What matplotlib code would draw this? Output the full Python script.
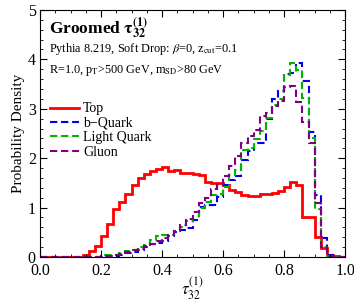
import matplotlib
matplotlib.use('Agg')
import matplotlib.pyplot as plt
import numpy as np
from matplotlib.ticker import MultipleLocator

# bin edges: 50 bins of width 0.02
edges = np.linspace(0.0, 1.0, 51)

top = [0, 0, 0, 0, 0, 0, 0, 0.05, 0.12, 0.22,
       0.43, 0.66, 0.98, 1.12, 1.28, 1.45, 1.60, 1.67, 1.75, 1.78,
       1.82, 1.74, 1.76, 1.70, 1.70, 1.68, 1.66, 1.52, 1.50, 1.50,
       1.46, 1.36, 1.32, 1.26, 1.24, 1.24, 1.27, 1.27, 1.29, 1.34,
       1.42, 1.51, 1.46, 0.81, 0.80, 0.40, 0.19, 0.04, 0.02, 0.01]

bquark = [0, 0, 0, 0, 0, 0, 0, 0, 0, 0,
          0.01, 0.02, 0.03, 0.05, 0.08, 0.10, 0.14, 0.20, 0.26, 0.28,
          0.33, 0.42, 0.50, 0.55, 0.58, 0.75, 1.02, 1.05, 1.05, 1.22,
          1.46, 1.55, 1.63, 1.96, 2.15, 2.30, 2.30, 2.80, 3.20, 3.35,
          3.70, 3.72, 3.93, 3.57, 2.54, 1.26, 0.38, 0.04, 0.01, 0]

light = [0, 0, 0, 0, 0, 0, 0, 0, 0, 0,
         0.05, 0.05, 0.05, 0.08, 0.12, 0.15, 0.20, 0.25, 0.35, 0.42,
         0.45, 0.45, 0.52, 0.60, 0.72, 0.82, 1.00, 1.12, 1.25, 1.28,
         1.42, 1.65, 1.76, 2.16, 2.20, 2.38, 2.55, 2.82, 3.07, 3.20,
         3.68, 3.92, 3.78, 3.22, 2.40, 0.97, 0.20, 0.03, 0.01, 0]

gluon = [0, 0, 0, 0, 0, 0, 0, 0, 0, 0,
         0.02, 0.03, 0.04, 0.07, 0.10, 0.14, 0.17, 0.22, 0.27, 0.33,
         0.38, 0.45, 0.52, 0.65, 0.76, 0.92, 1.09, 1.19, 1.38, 1.46,
         1.63, 1.85, 2.05, 2.30, 2.45, 2.57, 2.85, 2.92, 3.05, 3.15,
         3.45, 3.46, 3.14, 2.73, 2.30, 1.09, 0.20, 0.03, 0.01, 0]

plt.rcParams['font.family'] = ['Liberation Serif', 'DejaVu Serif']
plt.rcParams['mathtext.fontset'] = 'stix'

fig = plt.figure(figsize=(3.54, 3.02), dpi=100)
ax = fig.add_axes([0.113, 0.149, 0.862, 0.818])

dash = (0, (3.5, 1.8))
ax.stairs(top, edges, color='#ff0000', lw=2.0, label='Top')
ax.stairs(bquark, edges, color='#0000ee', lw=1.5, ls=dash, label='b\u2212Quark')
ax.stairs(light, edges, color='#00b400', lw=1.5, ls=dash, label='Light Quark')
ax.stairs(gluon, edges, color='#800080', lw=1.5, ls=dash, label='Gluon')

ax.set_xlim(0, 1)
ax.set_ylim(0, 5)
ax.xaxis.set_major_locator(MultipleLocator(0.2))
ax.xaxis.set_minor_locator(MultipleLocator(0.05))
ax.yaxis.set_major_locator(MultipleLocator(1))
ax.yaxis.set_minor_locator(MultipleLocator(0.2))
ax.xaxis.set_major_formatter(plt.FormatStrFormatter('%.1f'))
ax.tick_params(which='both', direction='in', top=True, right=True, labelsize=11.5)
ax.tick_params(axis='x', which='major', pad=4)
ax.tick_params(axis='y', which='major', pad=3)
ax.tick_params(which='major', length=5)
ax.tick_params(which='minor', length=2.5)

ax.set_xlabel(r'$\tau_{32}^{(1)}$', fontsize=12, labelpad=-2)
ax.set_ylabel('Probability Density', fontsize=11, labelpad=2)

ax.text(0.03, 0.925, r'Groomed $\mathbf{\tau_{32}^{(1)}}$', transform=ax.transAxes,
        fontsize=12.5, fontweight='bold', va='center')
ax.text(0.03, 0.84, r'Pythia 8.219, Soft Drop: $\beta$=0, z$_{\rm cut}$=0.1',
        transform=ax.transAxes, fontsize=8.8, va='center')
ax.text(0.03, 0.755, r'R=1.0, p$_{\rm T}$>500 GeV, m$_{\rm SD}$>80 GeV',
        transform=ax.transAxes, fontsize=8.8, va='center')

ax.legend(loc='upper left', bbox_to_anchor=(0.0, 0.665), frameon=False,
          fontsize=10, handlelength=2.1, handletextpad=0.3, labelspacing=0.1,
          borderaxespad=0.3)

fig.savefig('out.png', dpi=100)
